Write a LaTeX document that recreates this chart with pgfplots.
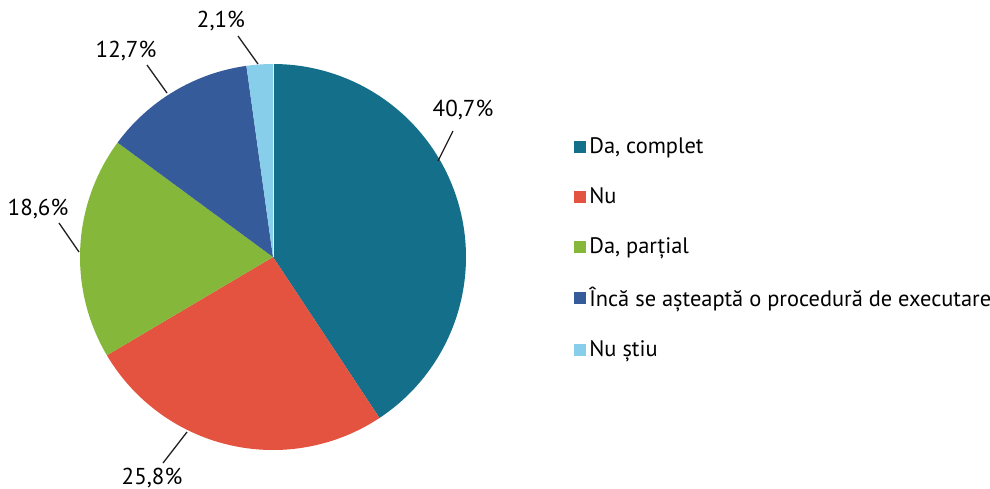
\documentclass[border=0pt]{standalone}
\usepackage{pgfplots}
\pgfplotsset{compat=1.18}
\usepackage{fontspec}
\setmainfont{PT Sans}
\definecolor{cteal}{HTML}{14708A}
\definecolor{cred}{HTML}{E4533F}
\definecolor{cgreen}{HTML}{85B73B}
\definecolor{cblue}{HTML}{365B9A}
\definecolor{clight}{HTML}{87CEEB}
\definecolor{txt}{HTML}{231F20}

% shares in percent, clockwise from 12 o'clock
\def\pA{40.7}\def\pB{25.8}\def\pC{18.6}\def\pD{12.7}\def\pE{2.1}

\begin{document}
\begin{tikzpicture}[font=\color{txt}]
\begin{axis}[width=495pt,height=244pt,scale only axis,
 xmin=0,xmax=990,ymin=0,ymax=488,y dir=reverse,axis lines=none,clip=false,
 legend image code/.code={\fill[#1,draw=none] (0pt,-3pt) rectangle (6pt,3pt);},
 legend style={draw=none,fill=none,font=\fontsize{11.2}{13}\selectfont,
  at={(0.5737,0.7336)},anchor=north west,row sep=12.5pt,
  nodes={inner sep=1.5pt,anchor=west}},
 legend cell align=left]
\pgfmathsetmacro\aA{90}
\pgfmathsetmacro\aB{\aA-\pA*3.6}
\pgfmathsetmacro\aC{\aB-\pB*3.6}
\pgfmathsetmacro\aD{\aC-\pC*3.6}
\pgfmathsetmacro\aE{\aD-\pD*3.6}
\pgfmathsetmacro\aF{-270}
\addplot[fill=cteal,draw=none,domain=\aB:\aA,samples=120]
 ({273+193*cos(x)},{257-193*sin(x)}) -- (axis cs:273,257) -- cycle;
\addplot[fill=cred,draw=none,domain=\aC:\aB,samples=80]
 ({273+193*cos(x)},{257-193*sin(x)}) -- (axis cs:273,257) -- cycle;
\addplot[fill=cgreen,draw=none,domain=\aD:\aC,samples=60]
 ({273+193*cos(x)},{257-193*sin(x)}) -- (axis cs:273,257) -- cycle;
\addplot[fill=cblue,draw=none,domain=\aE:\aD,samples=50]
 ({273+193*cos(x)},{257-193*sin(x)}) -- (axis cs:273,257) -- cycle;
\addplot[fill=clight,draw=none,domain=\aF:\aE,samples=10]
 ({273+193*cos(x)},{257-193*sin(x)}) -- (axis cs:273,257) -- cycle;
\legend{{Da, complet},Nu,{Da, parțial},Încă se așteaptă o procedură de executare,Nu știu}
% thin light seam between the last and first slice
\draw[white!70!clight,line width=0.4pt] (axis cs:273,257) -- (axis cs:273,64);
% leader lines and labels
\begin{scope}[line width=0.65pt,txt]
\draw (axis cs:438,161) -- (axis cs:453,131);
\draw (axis cs:187,432) -- (axis cs:163,463);
\draw (axis cs:79,252) -- (axis cs:59,223);
\draw (axis cs:167,93) -- (axis cs:147,65);
\draw (axis cs:258,64) -- (axis cs:238,36);
\end{scope}
\begin{scope}[every node/.style={font=\fontsize{11.5}{13}\selectfont,inner sep=0pt}]
\node at (axis cs:463,110) {40,7\%};
\node at (axis cs:152,478) {25,8\%};
\node at (axis cs:38,209) {18,6\%};
\node at (axis cs:126,51) {12,7\%};
\node at (axis cs:221,21) {2,1\%};
\end{scope}
\end{axis}
\pgfresetboundingbox
\useasboundingbox (current axis.south west) rectangle (current axis.north east);
\end{tikzpicture}
\end{document}
